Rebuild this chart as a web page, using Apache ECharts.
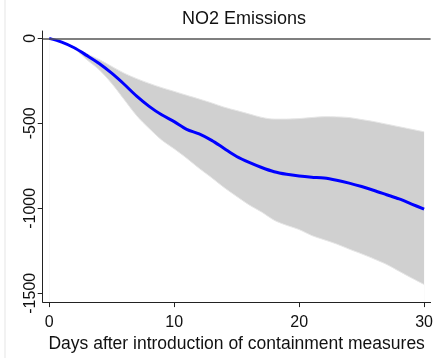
<!DOCTYPE html>
<html>
<head>
<meta charset="utf-8">
<script src="https://cdn.jsdelivr.net/npm/echarts@6/dist/echarts.min.js"></script>
<style>
html,body{margin:0;padding:0;background:#fff;}
#chart{width:436px;height:358px;}
</style>
</head>
<body>
<div id="chart"></div>
<script>
var days = [0,1,2,3,4,5,6,7,8,9,10,11,12,13,14,15,16,17,18,19,20,21,22,23,24,25,26,27,28,29,30];
var estimate = [0,-22,-55,-100,-148,-205,-270,-340,-400,-450,-490,-535,-562,-600,-648,-695,-730,-760,-785,-800,-810,-817,-822,-835,-852,-872,-895,-920,-945,-975,-1005];
var upperCI = [0,-20,-50,-90,-125,-165,-205,-237,-265,-290,-312,-335,-357,-380,-405,-425,-445,-465,-475,-475,-472,-466,-461,-462,-466,-478,-490,-505,-520,-535,-550];
var lowerCI = [0,-20,-60,-125,-185,-265,-360,-455,-530,-598,-650,-705,-765,-820,-878,-930,-980,-1022,-1070,-1100,-1125,-1160,-1185,-1210,-1240,-1268,-1298,-1330,-1370,-1410,-1448];
var xTicks = [0,10,20,30];
var yTicks = [0,-500,-1000,-1500];

var chart = echarts.init(document.getElementById('chart'), null, {renderer:'canvas'});
var upperData = days.map(function(d,i){return [d, upperCI[i]];});
var lowerData = days.map(function(d,i){return [d, lowerCI[i]];});
var estData = days.map(function(d,i){return [d, estimate[i]];});
var tickFont = "'Liberation Sans',Arial,sans-serif";
chart.setOption({
  animation:false,
  backgroundColor:'#ffffff',
  title:{
    text:'NO2 Emissions', left:239, top:5, textAlign:'center',
    textStyle:{fontFamily:"'Liberation Sans',Arial,sans-serif", fontWeight:'normal', fontSize:18, color:'#111'}
  },
  graphic:[{type:'line', shape:{x1:5,y1:0,x2:5,y2:358}, style:{stroke:'#eeeeee', lineWidth:1.5}, silent:true}],
  grid:{left:42.7, right:0, top:31, bottom:51},
  xAxis:{
    type:'value', min:-0.52, max:30.52,
    splitLine:{show:false},
    axisLine:{show:true, onZero:false, lineStyle:{color:'#222', width:1}},
    axisTick:{show:true, customValues:xTicks, length:5, lineStyle:{color:'#222'}},
    axisLabel:{customValues:xTicks, margin:12, fontFamily:tickFont, fontSize:16, color:'#111',
      formatter:function(v){return String(v);}},
    name:'Days after introduction of containment measures', nameLocation:'middle', nameGap:29,
    nameTextStyle:{fontFamily:"'Liberation Sans',Arial,sans-serif", fontSize:17.5, color:'#111'}
  },
  yAxis:{
    type:'value', min:-1552, max:43.4,
    splitLine:{show:false},
    axisLine:{show:true, onZero:false, lineStyle:{color:'#222', width:1}},
    axisTick:{show:true, customValues:yTicks, length:5, lineStyle:{color:'#222'}},
    axisLabel:{customValues:yTicks, rotate:90, margin:4, fontFamily:tickFont, fontSize:16, color:'#111',
      formatter:function(v){return String(v);}}
  },
  series:[
    {type:'line', data:upperData, smooth:0.3, symbol:'none',
     lineStyle:{width:1, color:'#e6e6e6'}, areaStyle:{color:'#d0d0d0', opacity:1, origin:'start'}, silent:true, z:1},
    {type:'line', data:lowerData, smooth:0.3, symbol:'none',
     lineStyle:{width:1, color:'#e6e6e6'}, areaStyle:{color:'#ffffff', opacity:1, origin:'start'}, silent:true, z:1},
    {type:'line', data:estData, smooth:0.3, symbol:'none',
     lineStyle:{color:'#0000ff', width:3}, z:3,
     markLine:{silent:true, symbol:'none', label:{show:false},
       lineStyle:{color:'#555', width:1.5, type:'solid'}, data:[{yAxis:0}]}}
  ]
});
</script>
</body>
</html>
